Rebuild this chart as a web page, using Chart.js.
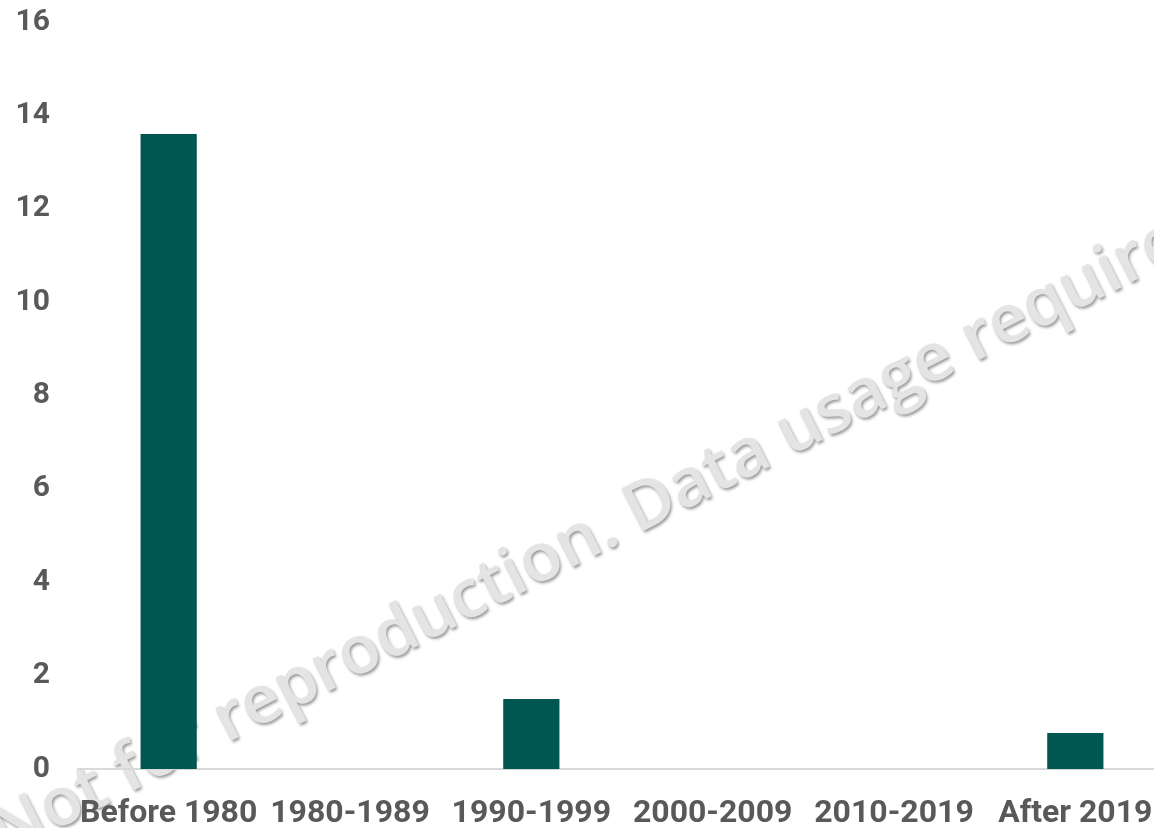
<!DOCTYPE html>
<html>
<head>
<meta charset="utf-8">
<script src="https://cdn.jsdelivr.net/npm/chart.js@4"></script>
<style>
  html, body { margin: 0; padding: 0; background: #fff; overflow: hidden; }
  #wrap { width: 1166px; height: 828px; position: relative; }
</style>
</head>
<body>
<div id="wrap"><canvas id="chart"></canvas></div>
<script>
const categories = ['Before 1980', '1980-1989', '1990-1999', '2000-2009', '2010-2019', 'After 2019'];
const values = [13.6, 0, 1.5, 0, 0, 0.77];
const yTicks = [0, 2, 4, 6, 8, 10, 12, 14, 16];

const watermarkText = 'Not for reproduction. Data usage requires';

// faint embossed watermark across the plot, drawn behind the bars
const watermark = {
  id: 'watermark',
  beforeDraw(chart) {
    const ctx = chart.ctx;
    ctx.save();
    ctx.fillStyle = '#fff';
    ctx.fillRect(0, 0, chart.width, chart.height);
    ctx.font = '600 67px "Open Sans"';
    const ang = -27 * Math.PI / 180;
    const off = ctx.measureText('Not for ').width;
    const x0 = 227 - off * Math.cos(ang);
    const y0 = 743 - off * Math.sin(ang);
    ctx.translate(x0, y0);
    ctx.rotate(ang);
    ctx.textBaseline = 'alphabetic';
    ctx.fillStyle = '#ffffff';
    ctx.fillText(watermarkText, -1, -1);
    ctx.shadowColor = 'rgba(0,0,0,0.4)';
    ctx.shadowBlur = 3;
    ctx.shadowOffsetX = 1.5;
    ctx.shadowOffsetY = 2;
    ctx.fillStyle = '#e4e4e4';
    ctx.fillText(watermarkText, 0, 0);
    ctx.restore();
  }
};

new Chart(document.getElementById('chart'), {
  type: 'bar',
  data: {
    labels: categories,
    datasets: [{
      data: values,
      backgroundColor: '#005752',
      borderWidth: 0,
      barPercentage: 0.31,
      categoryPercentage: 1
    }]
  },
  options: {
    responsive: true,
    maintainAspectRatio: false,
    animation: false,
    layout: { padding: 0 },
    plugins: { legend: { display: false }, tooltip: { enabled: false } },
    scales: {
      x: {
        grid: { display: false, drawTicks: false },
        border: { display: true, color: '#d9d9d9', width: 2 },
        ticks: {
          color: '#595959',
          font: { family: 'Roboto', weight: 'bold', size: 32 },
          padding: 26,
          maxRotation: 0,
          autoSkip: false
        },
        afterFit(scale) {
          scale.height = 59;
          scale.paddingLeft = 0;
          scale.paddingRight = 0;
        }
      },
      y: {
        min: 0,
        max: 16,
        grid: { display: false, drawTicks: false },
        border: { display: false },
        afterBuildTicks(scale) { scale.ticks = yTicks.map(v => ({ value: v })); },
        ticks: {
          color: '#595959',
          font: { family: 'Roboto', weight: 'bold', size: 30 },
          padding: 28
        },
        afterFit(scale) {
          scale.width = 78;
          scale.paddingTop = 22;
          scale.paddingBottom = 0;
        }
      }
    }
  },
  plugins: [watermark]
});
</script>
</body>
</html>
